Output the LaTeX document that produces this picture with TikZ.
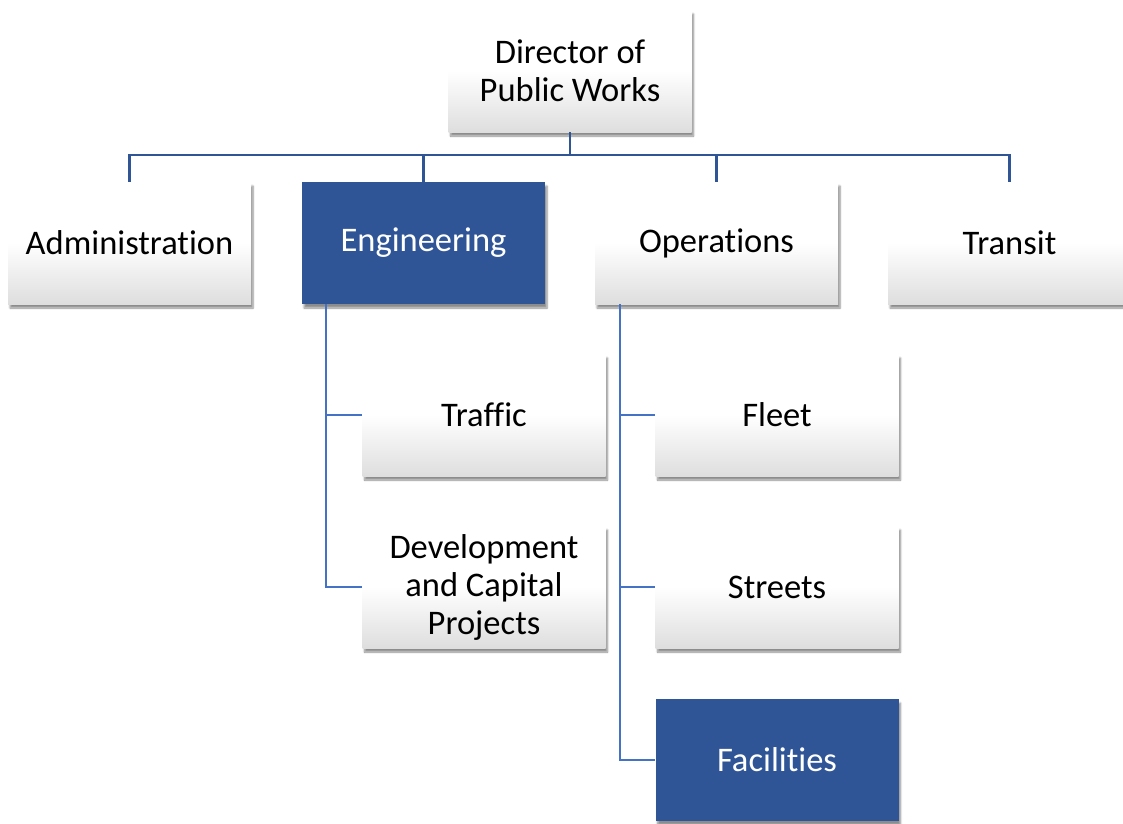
\documentclass[tikz,border=0pt]{standalone}
\usepackage{fontspec}
\setmainfont{Carlito}[Ligatures=NoCommon]
\usetikzlibrary{shadows,shadows.blur}
\definecolor{darkbox}{HTML}{2F5597}
\definecolor{linkblue}{HTML}{4472C4}
\definecolor{busblue}{HTML}{2F5597}
\tikzset{
  unit/.style={rectangle, minimum width=243pt, minimum height=122pt, inner sep=0pt,
    align=center, font=\fontsize{34.5}{38}\selectfont,
    blur shadow={shadow xshift=2pt, shadow yshift=-4pt, shadow blur steps=6, shadow opacity=45}},
  lightbox/.style={unit, top color=white, bottom color=black!13, middle color=white, text=black},
  bluebox/.style={unit, fill=darkbox, text=white},
  link/.style={draw=linkblue, line width=2pt},
  bus/.style={draw=busblue, line width=2.2pt}
}
\begin{document}
\begin{tikzpicture}[x=1pt,y=1pt]
\useasboundingbox (0,-823) rectangle (1123,0);
\clip (0,-823) rectangle (1123,0);
\node[lightbox] (dir) at (570,-71) {Director of\\Public Works};
\node[lightbox] (adm) at (129.5,-243) {Administration};
\node[bluebox] (eng) at (423.5,-243) {Engineering};
\node[lightbox] (ops) at (716.5,-243) {Operations};
\node[lightbox] (tra) at (1009.5,-243) {Transit};
\node[lightbox] (trf) at (484,-415) {Traffic};
\node[lightbox] (dev) at (484,-587) {Development\\and Capital\\Projects};
\node[lightbox] (flt) at (777,-415) {Fleet};
\node[lightbox] (str) at (777,-587) {Streets};
\node[bluebox] (fac) at (777,-760) {Facilities};
\coordinate (busL) at (129.5,-155);
\coordinate (busR) at (1009.5,-155);
\coordinate (mid) at (570,-155);
\draw[bus] (dir.south) -- (mid);
\draw[bus] (adm.north) -- (busL) -- (busR) -- (tra.north);
\draw[bus] (eng.north) -- (eng.north |- mid);
\draw[bus] (ops.north) -- (ops.north |- mid);
\coordinate (engx) at (326,-304);
\coordinate (opsx) at (620,-304);
\draw[link] (engx) |- (trf.west);
\draw[link] (engx) |- (dev.west);
\draw[link] (opsx) |- (flt.west);
\draw[link] (opsx) |- (str.west);
\draw[link] (opsx) |- (fac.west);
\end{tikzpicture}
\end{document}
